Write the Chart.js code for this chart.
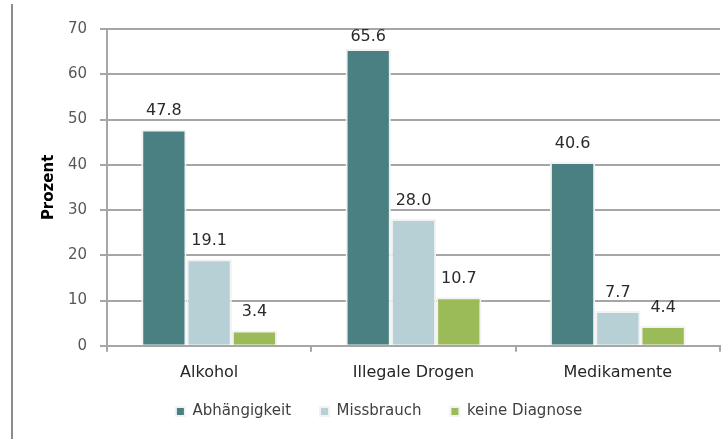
<!DOCTYPE html>
<html>
<head>
<meta charset="utf-8">
<script src="https://cdn.jsdelivr.net/npm/chart.js@4.4.1/dist/chart.umd.min.js"></script>
<style>
  html, body { margin: 0; padding: 0; background: #ffffff; }
  #wrap { width: 728px; height: 439px; position: relative; }
</style>
</head>
<body>
<div id="wrap"><canvas id="chart" width="728" height="439"></canvas></div>
<script>
// Diagnosen nach Substanzgruppe (Prozent)
const categories = ['Alkohol', 'Illegale Drogen', 'Medikamente'];
const seriesNames = ['Abhängigkeit', 'Missbrauch', 'keine Diagnose'];
const abhaengigkeit = [47.8, 65.6, 40.6];
const missbrauch = [19.1, 28.0, 7.7];
const keineDiagnose = [3.4, 10.7, 4.4];
const yTicks = [0, 10, 20, 30, 40, 50, 60, 70];

const colors = ['#4a8081', '#b7d0d6', '#9bbb59'];
const gridColor = '#a6a6a6';
const fontFamily = '"DejaVu Sans", Verdana, sans-serif';

// value labels above each bar, kept inside the plot area
const valueLabels = {
  id: 'valueLabels',
  afterDatasetsDraw(chart) {
    const ctx = chart.ctx;
    const top = chart.chartArea.top;
    ctx.save();
    ctx.font = '16px ' + fontFamily;
    ctx.fillStyle = '#2b2b2b';
    ctx.textAlign = 'center';
    ctx.textBaseline = 'alphabetic';
    chart.data.datasets.forEach((ds, i) => {
      chart.getDatasetMeta(i).data.forEach((bar, j) => {
        const y = Math.max(bar.y - 14, top + 12);
        ctx.fillText(ds.data[j].toFixed(1), bar.x, y);
      });
    });
    ctx.restore();
  }
};

// thin frame line along the left edge
const leftFrame = {
  id: 'leftFrame',
  beforeDraw(chart) {
    const ctx = chart.ctx;
    ctx.save();
    ctx.strokeStyle = '#8c8c8c';
    ctx.lineWidth = 2;
    ctx.beginPath();
    ctx.moveTo(12, 4);
    ctx.lineTo(12, 439);
    ctx.stroke();
    ctx.restore();
  }
};

// pull the legend row a little closer to the category labels
const legendLift = {
  id: 'legendLift',
  afterLayout(chart) {
    if (chart.legend) {
      chart.legend.top -= 18;
      chart.legend.bottom -= 18;
    }
  }
};

new Chart(document.getElementById('chart'), {
  type: 'bar',
  data: {
    labels: categories,
    datasets: [
      { label: seriesNames[0], data: abhaengigkeit, backgroundColor: colors[0] },
      { label: seriesNames[1], data: missbrauch, backgroundColor: colors[1] },
      { label: seriesNames[2], data: keineDiagnose, backgroundColor: colors[2] }
    ].map(d => Object.assign(d, {
      borderColor: '#f2f2f2',
      borderWidth: 2,
      borderSkipped: 'bottom',
      categoryPercentage: 0.665,
      barPercentage: 1
    }))
  },
  options: {
    responsive: false,
    animation: false,
    devicePixelRatio: 1,
    layout: { padding: { left: 38, right: 8, top: 29, bottom: 0 } },
    plugins: {
      legend: {
        position: 'bottom',
        maxHeight: 46,
        labels: {
          boxWidth: 9,
          boxHeight: 9,
          padding: 29,
          color: '#404040',
          font: { family: fontFamily, size: 15 }
        }
      },
      tooltip: { enabled: false }
    },
    scales: {
      x: {
        offset: true,
        grid: {
          display: true,
          offset: true,
          drawOnChartArea: false,
          color: gridColor,
          lineWidth: 2,
          tickLength: 6
        },
        border: { color: gridColor, width: 2 },
        ticks: {
          color: '#262626',
          padding: 11,
          font: { family: fontFamily, size: 16 }
        }
      },
      y: {
        min: 0,
        max: 70,
        afterBuildTicks(scale) { scale.ticks = yTicks.map(v => ({ value: v })); },
        afterFit(scale) { scale.width = 69; },
        grid: {
          color: gridColor,
          lineWidth: 2,
          tickLength: 7
        },
        border: { color: gridColor, width: 2 },
        ticks: {
          color: '#595959',
          padding: 13,
          font: { family: fontFamily, size: 15 }
        },
        title: {
          display: true,
          text: 'Prozent',
          color: '#000000',
          padding: { top: 2, bottom: 0 },
          font: { family: fontFamily, size: 15, weight: 'bold' }
        }
      }
    }
  },
  plugins: [leftFrame, legendLift, valueLabels]
});
</script>
</body>
</html>
